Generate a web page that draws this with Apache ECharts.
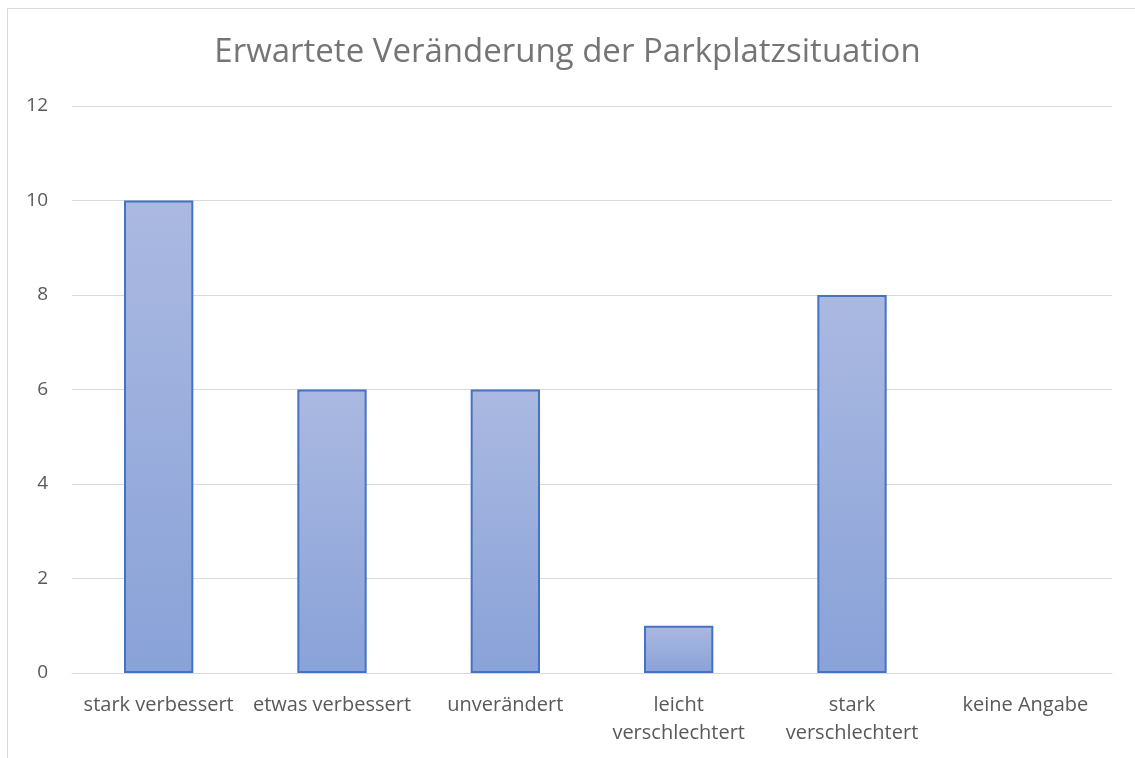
<!DOCTYPE html>
<html>
<head>
<meta charset="utf-8">
<script src="https://cdn.jsdelivr.net/npm/echarts@6/dist/echarts.min.js"></script>
<style>
  html, body { margin: 0; padding: 0; background: #fff; }
  #chart { width: 1135px; height: 758px; }
</style>
</head>
<body>
<div id="chart"></div>
<script>
  var categories = ['stark verbessert', 'etwas verbessert', 'unverändert', 'leicht\nverschlechtert', 'stark\nverschlechtert', 'keine Angabe']
  var values = [10, 6, 6, 1, 8, 0]
  var yTicks = [0, 2, 4, 6, 8, 10, 12]

  var chart = echarts.init(document.getElementById('chart'))
  var font = '"Open Sans", sans-serif'

  // empty bars get no outline
  var barData = values.map(function (v) {
    return v === 0 ? { value: v, itemStyle: { borderWidth: 0 } } : v
  })

  chart.setOption({
    animation: false,
    textStyle: { fontFamily: font },
    title: {
      text: 'Erwartete Veränderung der Parkplatzsituation',
      left: 'center',
      top: 31,
      textStyle: { color: '#757575', fontSize: 33, fontWeight: 'normal', fontFamily: font }
    },
    graphic: [{
      type: 'rect',
      shape: { x: 7.5, y: 8.5, width: 1140, height: 760 },
      style: { fill: 'none', stroke: '#d9d9d9', lineWidth: 1 },
      silent: true
    }],
    grid: { left: 72, right: 23, top: 106, bottom: 85 },
    xAxis: {
      type: 'category',
      data: categories,
      axisLine: { lineStyle: { color: '#d9d9d9' } },
      axisTick: { show: false },
      axisLabel: { color: '#595959', fontSize: 20, lineHeight: 28, margin: 18, interval: 0 }
    },
    yAxis: {
      type: 'value',
      min: yTicks[0],
      max: yTicks[yTicks.length - 1],
      interval: 2,
      axisLine: { show: false },
      axisTick: { show: false },
      splitLine: { lineStyle: { color: '#d9d9d9' } },
      axisLabel: { color: '#595959', fontSize: 19, margin: 24 }
    },
    series: [{
      type: 'bar',
      data: barData,
      barWidth: '40%',
      itemStyle: {
        color: new echarts.graphic.LinearGradient(0, 0, 0, 1, [
          { offset: 0, color: '#abb9e1' },
          { offset: 1, color: '#89a2d8' }
        ], false),
        borderColor: '#4472c4',
        borderWidth: 2
      }
    }]
  })
</script>
</body>
</html>
